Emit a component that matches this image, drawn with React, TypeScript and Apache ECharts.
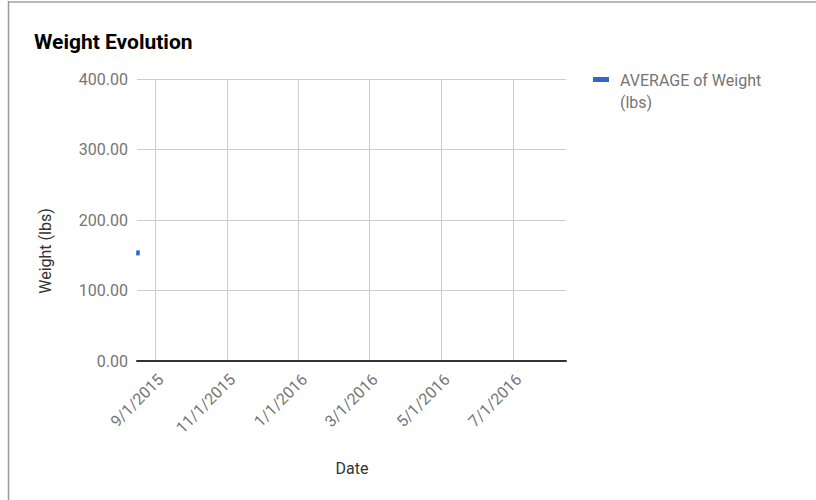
import React, { useEffect, useRef } from "react";
import * as echarts from "echarts";

const seriesName = "AVERAGE of Weight (lbs)";
const dates = ["2015-08-16", "2015-08-19"];
const weights = [153.5, 153.2];
const xTickDates = ["2015-09-01", "2015-11-01", "2016-01-01", "2016-03-01", "2016-05-01", "2016-07-01"];
const xRange = ["2015-08-16T16:00:00Z", "2016-08-15T00:00:00Z"];
const yTicks = [0, 100, 200, 300, 400];

const toTs = (s: string) => new Date(s.length === 10 ? s + "T00:00:00Z" : s).getTime();

export default function App() {
  const ref = useRef<HTMLDivElement>(null);
  useEffect(() => {
    if (!ref.current) return;
    const chart = echarts.init(ref.current, undefined, { renderer: "svg" });
    const tickTs = xTickDates.map(toTs);
    const fmt = (v: number) => {
      const d = new Date(v);
      return `${d.getUTCMonth() + 1}/${d.getUTCDate()}/${d.getUTCFullYear()}`;
    };
    chart.setOption({
      animation: false,
      backgroundColor: "#fff",
      textStyle: { fontFamily: "Roboto" },
      title: {
        text: "Weight Evolution",
        left: 29,
        top: 26,
        textStyle: { fontFamily: "Roboto", fontSize: 21, fontWeight: "bold", color: "#000" },
      },
      grid: { left: 137, top: 79, width: 429, height: 282, containLabel: false },
      xAxis: {
        type: "value",
        min: toTs(xRange[0]),
        max: toTs(xRange[1]),
        axisLine: { show: true, lineStyle: { color: "#333", width: 2 } },
        axisTick: { show: false, customValues: tickTs },
        splitLine: { show: true, lineStyle: { color: "#cccccc", width: 1 } },
        axisLabel: {
          customValues: tickTs,
          formatter: (v: number) => fmt(v),
          rotate: 45,
          margin: 10,
          verticalAlign: "top",
          fontFamily: "Roboto",
          fontSize: 16,
          color: "#757575",
          hideOverlap: false,
        },
      },
      yAxis: {
        type: "value",
        min: yTicks[0],
        max: yTicks[yTicks.length - 1],
        interval: 100,
        axisLine: { show: false },
        axisTick: { show: false },
        splitLine: { show: true, lineStyle: { color: "#cccccc", width: 1 } },
        axisLabel: {
          formatter: (v: number) => v.toFixed(2),
          margin: 9,
          fontFamily: "Roboto",
          fontSize: 16,
          color: "#757575",
        },
      },
      series: [
        {
          name: seriesName,
          type: "line",
          data: dates.map((d, i) => [toTs(d), weights[i]]),
          showSymbol: false,
          lineStyle: { color: "#3366cc", width: 5 },
          itemStyle: { color: "#3366cc" },
          clip: true,
        },
      ],
      graphic: [
        { type: "line", shape: { x1: 8, y1: 2, x2: 816, y2: 2 }, style: { stroke: "#b9b9b9", lineWidth: 2 } },
        { type: "line", shape: { x1: 8.5, y1: 1, x2: 8.5, y2: 500 }, style: { stroke: "#9a9a9a", lineWidth: 1.5 } },
        { type: "rect", shape: { x: 593, y: 77, width: 16, height: 5 }, style: { fill: "#3366cc" } },
        {
          type: "text",
          x: 620,
          y: 69,
          style: {
            text: "AVERAGE of Weight\n(lbs)",
            fontFamily: "Roboto",
            fontSize: 16,
            lineHeight: 22,
            fill: "#757575",
          },
        },
        {
          type: "text",
          x: 45,
          y: 251,
          rotation: Math.PI / 2,
          style: {
            text: "Weight (lbs)",
            fontFamily: "Roboto",
            fontSize: 16,
            fill: "#333",
            align: "center",
            verticalAlign: "middle",
          },
        },
        {
          type: "text",
          x: 352,
          y: 468,
          style: {
            text: "Date",
            fontFamily: "Roboto",
            fontSize: 16,
            fill: "#333",
            align: "center",
            verticalAlign: "middle",
          },
        },
      ],
    });
    return () => chart.dispose();
  }, []);
  return (
    <div
      ref={ref}
      style={{ position: "absolute", left: 0, top: 0, width: 816, height: 500 }}
    />
  );
}
